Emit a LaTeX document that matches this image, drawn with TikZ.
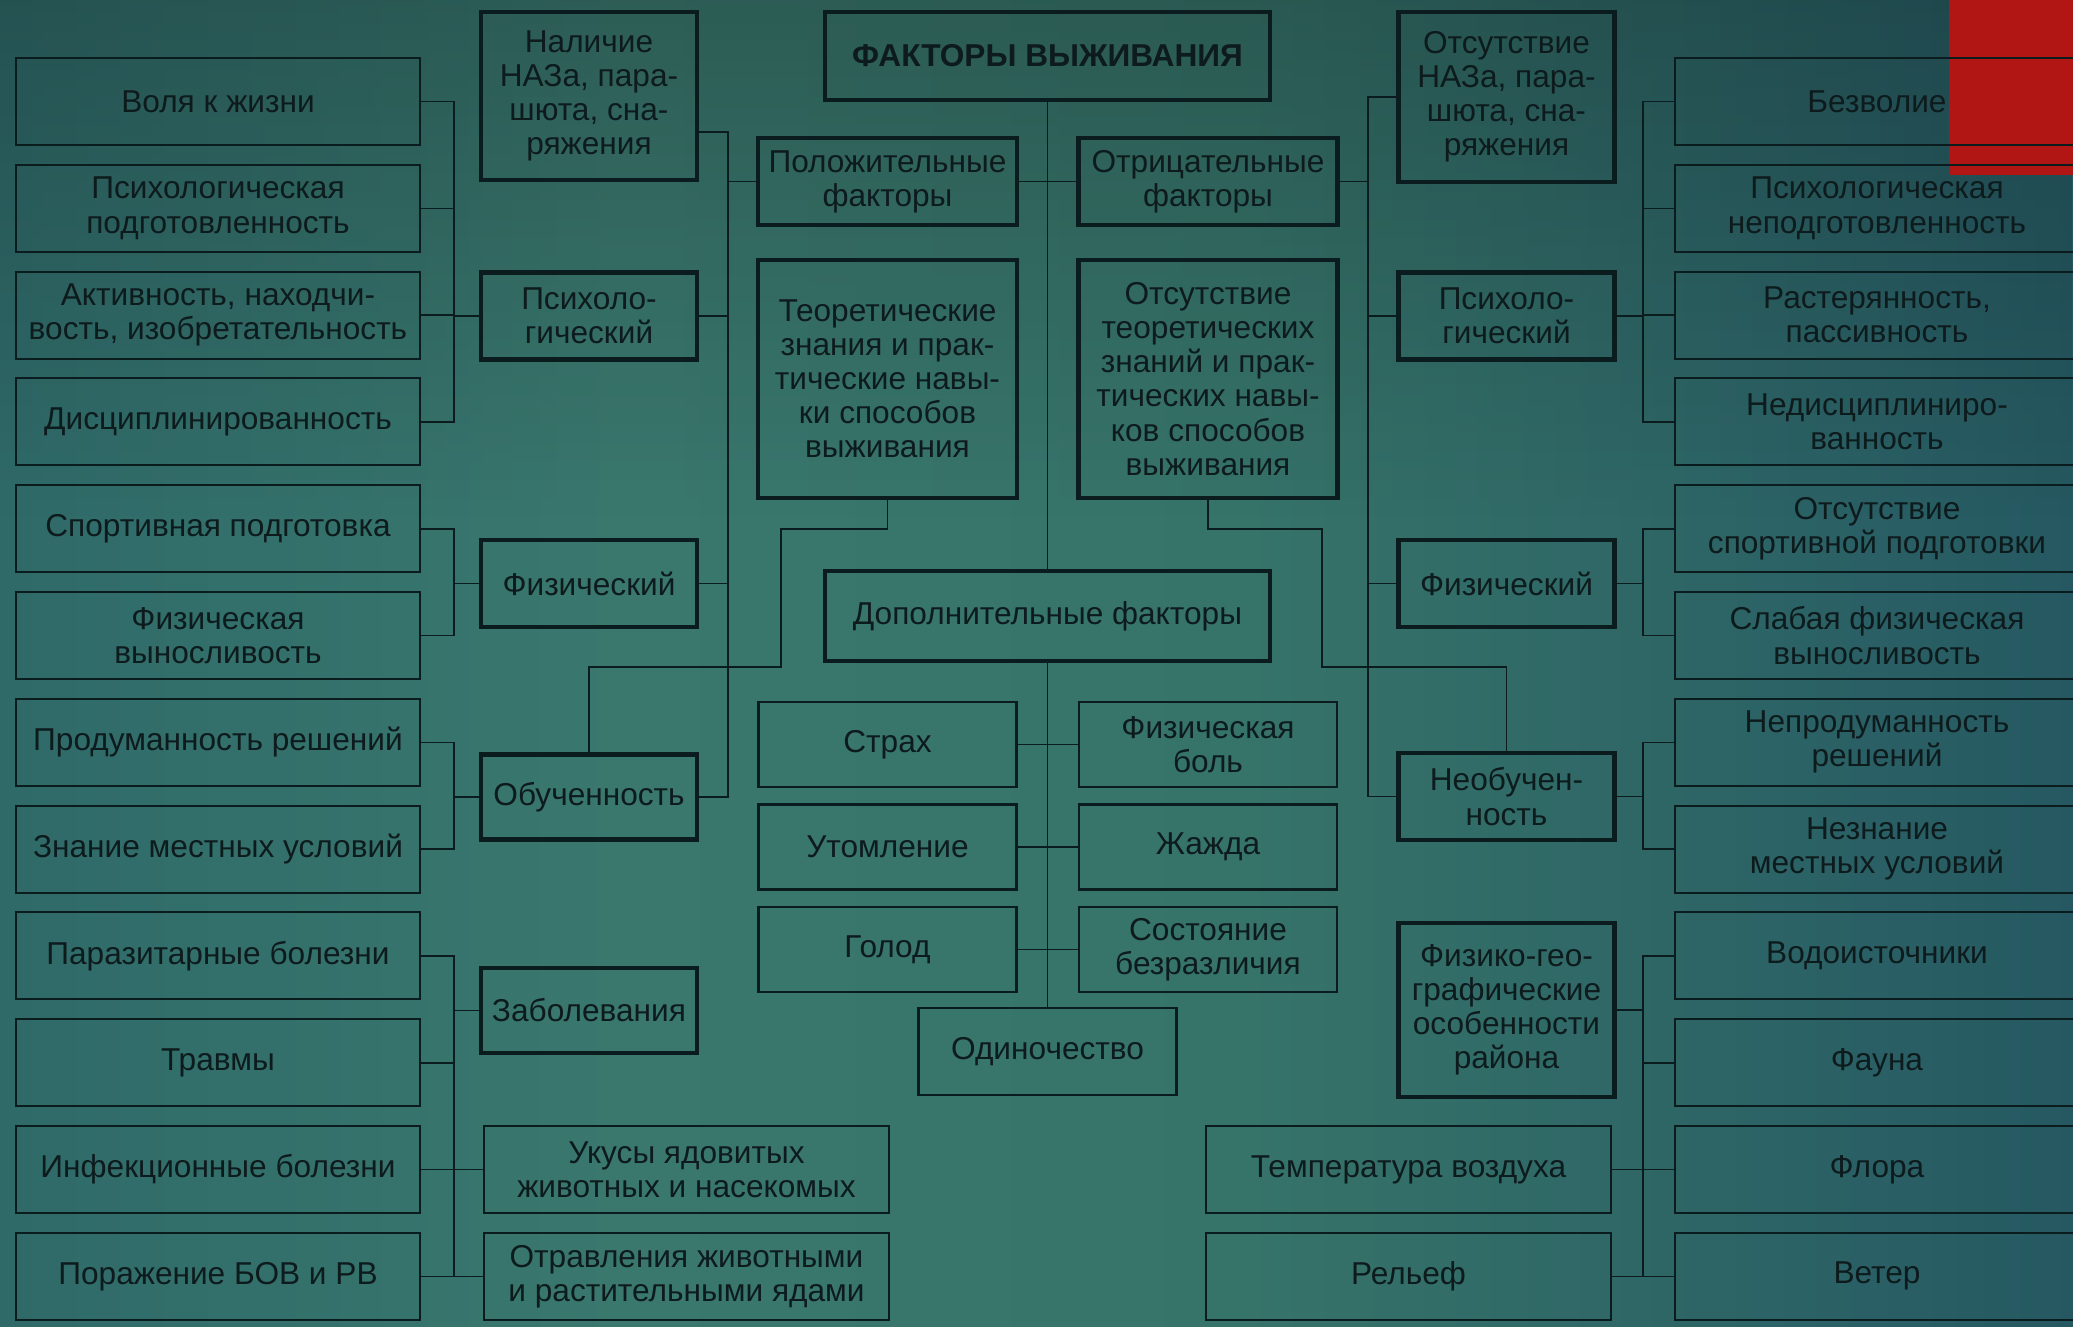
\documentclass[tikz,border=0pt]{standalone}
\usepackage{fontspec}
\setmainfont{Liberation Sans}
\usepackage{tikz}
\usetikzlibrary{positioning,fadings}
\definecolor{bgA}{HTML}{1C4D59}
\definecolor{bgB}{HTML}{2B6567}
\definecolor{bgC}{HTML}{3A786E}
\definecolor{bgD}{HTML}{367369}
\definecolor{bgE}{HTML}{2A6065}
\definecolor{bgF}{HTML}{1C4857}
\definecolor{bgG}{HTML}{133548}
\definecolor{linec}{HTML}{0B1C1F}
\definecolor{txtc}{HTML}{0D1B1D}
\definecolor{flag}{HTML}{B21614}
\pgfdeclarehorizontalshading{survbg}{100bp}{color(0bp)=(bgA); color(20bp)=(bgB);
  color(40bp)=(bgC); color(55bp)=(bgD); color(70bp)=(bgE); color(85bp)=(bgF);
  color(100bp)=(bgG)}
\tikzset{
  % --- boxes -----------------------------------------------------------------
  item/.style={draw=linec,line width=0.6pt,inner sep=1pt,outer sep=0pt,
               align=center,text=txtc,font=\fontsize{9}{9.7}\selectfont,
               minimum height=8.7mm},
  leaf/.style={item,minimum width=40.4mm},
  head/.style={item,line width=1.3pt},
  grp/.style={head,minimum width=21.6mm},
  extra/.style={item,minimum width=25.8mm,minimum height=8.5mm},
  % --- links -----------------------------------------------------------------
  link/.style={draw=linec,line width=0.45pt},
}

\begin{document}
\begin{tikzpicture}[x=0.1mm, y=-0.1mm]
  \useasboundingbox (0,0) rectangle (2073,1326);
  \clip (0,0) rectangle (2073,1326);
  \shade[shading=survbg] (0,0) rectangle (2073,1326);
  \fill[black,opacity=0.22,path fading=south] (0,0) rectangle (2073,520);
  \fill[flag] (1949,0) rectangle (2073,175);

  % left column
  \node[leaf] (l1)  at (218,101.5)  {Воля к жизни};
  \node[leaf] (l2)  at (218,208.3)  {Психологическая\\подготовленность};
  \node[leaf] (l3)  at (218,315.1)  {Активность, находчи-\\вость, изобретательность};
  \node[leaf] (l4)  at (218,421.9)  {Дисциплинированность};
  \node[leaf] (l5)  at (218,528.7)  {Спортивная подготовка};
  \node[leaf] (l6)  at (218,635.5)  {Физическая\\выносливость};
  \node[leaf] (l7)  at (218,742.3)  {Продуманность решений};
  \node[leaf] (l8)  at (218,849.1)  {Знание местных условий};
  \node[leaf] (l9)  at (218,955.9)  {Паразитарные болезни};
  \node[leaf] (l10) at (218,1062.7) {Травмы};
  \node[leaf] (l11) at (218,1169.5) {Инфекционные болезни};
  \node[leaf] (l12) at (218,1276.3) {Поражение БОВ и РВ};

  % right column
  \node[leaf] (r1)  at (1877,101.5)  {Безволие};
  \node[leaf] (r2)  at (1877,208.3)  {Психологическая\\неподготовленность};
  \node[leaf] (r3)  at (1877,315.1)  {Растерянность,\\пассивность};
  \node[leaf] (r4)  at (1877,421.9)  {Недисциплиниро-\\ванность};
  \node[leaf] (r5)  at (1877,528.7)  {Отсутствие\\спортивной подготовки};
  \node[leaf] (r6)  at (1877,635.5)  {Слабая физическая\\выносливость};
  \node[leaf] (r7)  at (1877,742.3)  {Непродуманность\\решений};
  \node[leaf] (r8)  at (1877,849.1)  {Незнание\\местных условий};
  \node[leaf] (r9)  at (1877,955.9)  {Водоисточники};
  \node[leaf] (r10) at (1877,1062.7) {Фауна};
  \node[leaf] (r11) at (1877,1169.5) {Флора};
  \node[leaf] (r12) at (1877,1276.3) {Ветер};

  % groups, left
  \node[grp,minimum height=16.8mm] (nalL) at (589,96) {Наличие\\НАЗа, пара-\\шюта, сна-\\ряжения};
  \node[grp] (psyL) at (589,316)   {Психоло-\\гический};
  \node[grp] (fizL) at (589,583.5) {Физический};
  \node[grp,minimum height=8.5mm] (obuL) at (589,797)   {Обученность};
  \node[grp,minimum height=8.5mm] (zabL) at (589,1010.5) {Заболевания};
  \node[leaf,minimum width=40.5mm] (bite)   at (686.5,1169.5) {Укусы ядовитых\\животных и насекомых};
  \node[leaf,minimum width=40.5mm] (poison) at (686.5,1276.3) {Отравления животными\\и растительными ядами};

  % groups, right
  \node[grp,minimum height=17mm] (nalR) at (1506.5,97) {Отсутствие\\НАЗа, пара-\\шюта, сна-\\ряжения};
  \node[grp] (psyR) at (1506.5,316)   {Психоло-\\гический};
  \node[grp] (fizR) at (1506.5,583.5) {Физический};
  \node[grp] (neoR) at (1506.5,796.5) {Необучен-\\ность};
  \node[grp,minimum height=17.4mm] (geoR) at (1506.5,1010) {Физико-гео-\\графические\\особенности\\района};
  \node[leaf,minimum width=40.5mm] (tempR)  at (1408.5,1169.5) {Температура воздуха};
  \node[leaf,minimum width=40.5mm] (relief) at (1408.5,1276.3) {Рельеф};

  % centre
  \node[head,minimum width=44.5mm,minimum height=8.8mm,font=\fontsize{9}{9.7}\selectfont\bfseries]
    (title) at (1047.5,56) {ФАКТОРЫ ВЫЖИВАНИЯ};
  \node[head,minimum width=25.9mm] (posF) at (887.5,181.5) {Положительные\\факторы};
  \node[head,minimum width=25.9mm] (negF) at (1208,181.5)  {Отрицательные\\факторы};
  \node[head,minimum width=25.9mm,minimum height=23.8mm] (teoP) at (887.5,379)
    {Теоретические\\знания и прак-\\тические навы-\\ки способов\\выживания};
  \node[head,minimum width=25.9mm,minimum height=23.8mm] (teoN) at (1208,379)
    {Отсутствие\\теоретических\\знаний и прак-\\тических навы-\\ков способов\\выживания};
  \node[head,minimum width=44.5mm,minimum height=9mm] (addF) at (1047.5,616) {Дополнительные факторы};
  \node[extra] (fear)   at (887.5,744.5) {Страх};
  \node[extra] (pain)   at (1208,744.5)  {Физическая\\боль};
  \node[extra] (tired)  at (887.5,847)   {Утомление};
  \node[extra] (thirst) at (1208,847)    {Жажда};
  \node[extra] (hunger) at (887.5,949.5) {Голод};
  \node[extra] (apathy) at (1208,949.5)  {Состояние\\безразличия};
  \node[extra,minimum height=8.7mm] (alone) at (1047.5,1051.5) {Одиночество};

  % brackets, left
  \foreach \i in {1,...,4} \draw[link] (l\i.east) -- ++(34,0) |- (psyL.west);
  \foreach \i in {5,6} \draw[link] (l\i.east) -- ++(34,0) |- (fizL.west);
  \foreach \i in {7,8} \draw[link] (l\i.east) -- ++(34,0) |- (obuL.west);
  \foreach \i in {9,...,12} \draw[link] (l\i.east) -- ++(34,0) |- (zabL.west);
  \draw[link] (l11.east) -- (bite.west);
  \draw[link] (l12.east) -- (poison.west);

  % brackets, right
  \foreach \i in {1,...,4} \draw[link] (r\i.west) -- ++(-32,0) |- (psyR.east);
  \foreach \i in {5,6} \draw[link] (r\i.west) -- ++(-32,0) |- (fizR.east);
  \foreach \i in {7,8} \draw[link] (r\i.west) -- ++(-32,0) |- (neoR.east);
  \foreach \i in {9,...,12} \draw[link] (r\i.west) -- ++(-32,0) |- (geoR.east);
  \draw[link] (r11.west) -- (tempR.east);
  \draw[link] (r12.west) -- (relief.east);

  % trunks
  \coordinate (trL) at (728,0);
  \coordinate (trR) at (1368,0);
  \draw[link] ([yshift=-3.6mm]nalL.east) -- ([yshift=-3.6mm]nalL.east -| trL) |- (obuL.east);
  \draw[link] (posF.west) -- (posF.west -| trL);
  \draw[link] (psyL.east) -- (psyL.east -| trL);
  \draw[link] (fizL.east) -- (fizL.east -| trL);
  \draw[link] (nalR.west) -- (nalR.west -| trR) |- (neoR.west);
  \draw[link] (negF.east) -- (negF.east -| trR);
  \draw[link] (psyR.west) -- (psyR.west -| trR);
  \draw[link] (fizR.west) -- (fizR.west -| trR);

  % centre spine
  \draw[link] (title.south) -- (addF.north);
  \draw[link] (posF.east) -- (negF.west);
  \draw[link] (addF.south) -- (alone.north);
  \draw[link] (fear.east) -- (pain.west);
  \draw[link] (tired.east) -- (thirst.west);
  \draw[link] (hunger.east) -- (apathy.west);

  % knowledge -> training
  \draw[link] (teoP.south) -- ++(0,31) -| (781,667) -| (obuL.north);
  \draw[link] (teoN.south) -- ++(0,31) -| (1322,667) -| (neoR.north);
\end{tikzpicture}
\end{document}
